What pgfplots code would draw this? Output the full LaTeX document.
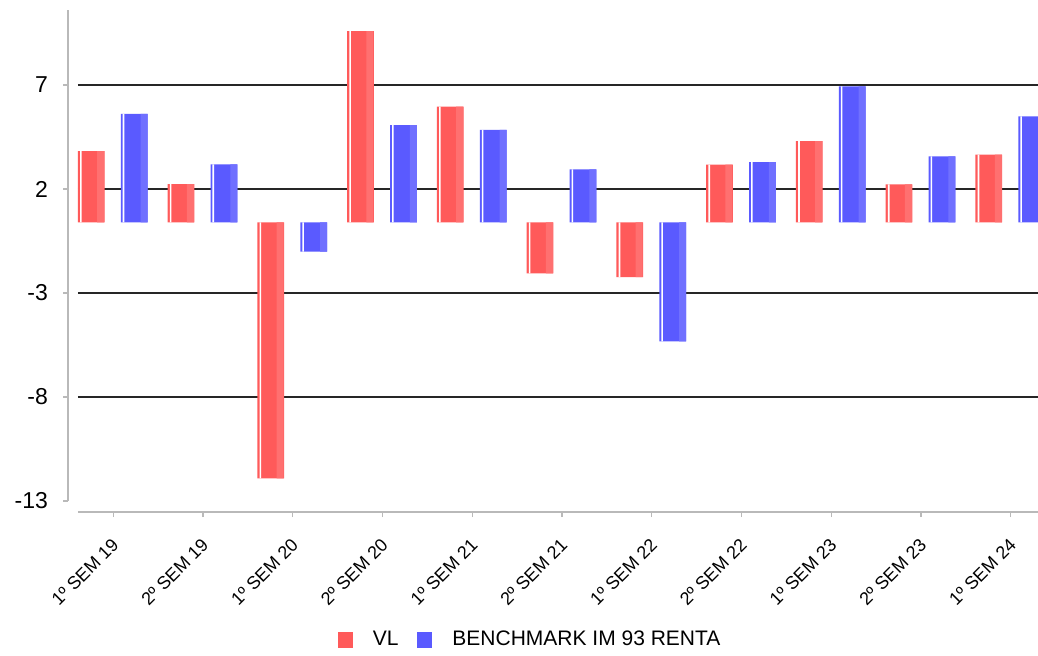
\documentclass[border=0pt]{standalone}
\usepackage{fontspec}
\setmainfont{Liberation Sans}
\usepackage{pgfplots}
\pgfplotsset{compat=1.18}
\usepackage{pgfplotstable}

\definecolor{vlA}{RGB}{255,90,90}
\definecolor{vlB}{RGB}{255,112,112}
\definecolor{bmA}{RGB}{90,90,255}
\definecolor{bmB}{RGB}{112,112,255}

% semester returns; zero of the bars sits 1.6 below the tick labelled 2
\pgfplotstableread{
x vl bm
0 3.42 5.22
1 1.84 2.79
2 -12.31 -1.41
3 9.20 4.68
4 5.56 4.44
5 -2.45 2.55
6 -2.63 -5.72
7 2.77 2.90
8 3.91 6.54
9 1.83 3.17
10 3.25 5.10
}\semdata

\begin{document}
\begin{tikzpicture}
\begin{axis}[
    scale only axis,
    width=480pt, height=251pt,
    xmin=-0.393, xmax=10.303,
    ymin=-13.93, ymax=10.21,
    axis lines*=left,
    x axis line style={gray!55, line width=0.75pt},
    y axis line style={draw=none},
    tick align=outside,
    major tick length=2.5pt,
    tick style={gray!55, line width=0.6pt},
    ytick style={draw=none},
    xtick={0,...,10},
    xticklabels={1º SEM 19, 2º SEM 19, 1º SEM 20, 2º SEM 20, 1º SEM 21, 2º SEM 21,
                 1º SEM 22, 2º SEM 22, 1º SEM 23, 2º SEM 23, 1º SEM 24},
    xticklabel style={xshift=3.5pt, yshift=-10pt, rotate=45, anchor=east,
        font=\fontsize{9}{10}\selectfont},
    ytick={-8.4,-3.4,1.6,6.6},
    yticklabels={-8,-3,2,7},
    extra y ticks={-13.4},
    extra y tick labels={-13},
    extra y tick style={grid=none},
    yticklabel style={font=\fontsize{11.5}{12}\selectfont, xshift=-9pt},
    ymajorgrids,
    grid style={black!85, line width=1pt},
    clip mode=individual,
    legend columns=2,
    legend style={draw=none, at={(0.472,-0.255)}, anchor=center,
        font=\fontsize{10.5}{12}\selectfont,
        /tikz/every odd column/.append style={column sep=8pt},
        /tikz/every even column/.append style={column sep=7.5pt}},
    legend image code/.code={\fill[#1] (0pt,-4pt) rectangle (7.5pt,4pt);},
]
\addplot[ybar, bar width=0.297, bar shift=-0.246, draw=none, fill=vlA]
    table[x=x, y=vl]{\semdata};
\addlegendentry{VL}
\addplot[ybar, bar width=0.297, bar shift=0.234, draw=none, fill=bmA]
    table[x=x, y=bm]{\semdata};
\addlegendentry{BENCHMARK IM 93 RENTA}
% lighter right edge of every bar
\addplot[ybar, bar width=0.078, bar shift=-0.140, fill=vlB, draw=none, forget plot]
    table[x=x, y=vl]{\semdata};
\addplot[ybar, bar width=0.078, bar shift=0.344, fill=bmB, draw=none, forget plot]
    table[x=x, y=bm]{\semdata};
% thin white gap near the left edge of every bar
\addplot[ybar, bar width=0.017, bar shift=-0.36, fill=white, draw=none, forget plot]
    table[x=x, y=vl]{\semdata};
\addplot[ybar, bar width=0.017, bar shift=0.114, fill=white, draw=none, forget plot]
    table[x=x, y=bm]{\semdata};
% y axis line and its ticks, set off to the left of the plot area
\draw[gray!55, line width=0.75pt] ([xshift=-5pt]axis cs:-0.393,10.21) -- ([xshift=-5pt]axis cs:-0.393,-13.4);
\pgfplotsinvokeforeach{-13.4,-8.4,-3.4,1.6,6.6}{
    \draw[gray!55, line width=0.6pt] ([xshift=-5pt]axis cs:-0.393,#1) -- ([xshift=-7.5pt]axis cs:-0.393,#1);
}
\end{axis}
\pgfresetboundingbox
\path ([xshift=-39pt, yshift=-71.5pt]current axis.south west) rectangle ([yshift=5pt]current axis.north east);
\end{tikzpicture}
\end{document}
